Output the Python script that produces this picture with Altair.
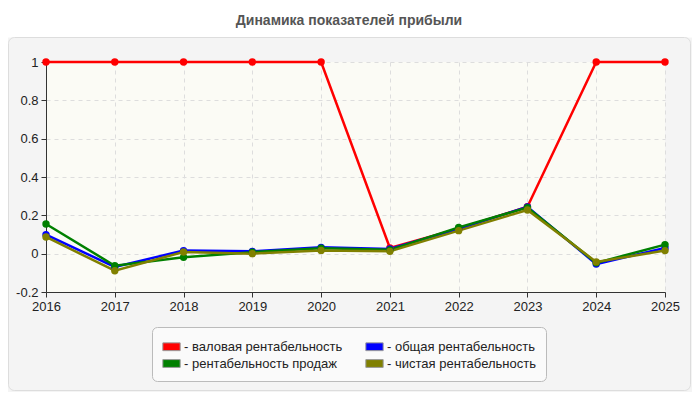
import altair as alt
import pandas as pd

years = [2016, 2017, 2018, 2019, 2020, 2021, 2022, 2023, 2024, 2025]
gross = [1, 1, 1, 1, 1, 0.03, 0.13, 0.245, 1, 1]
total = [0.099, -0.069, 0.016, 0.012, 0.033, 0.024, 0.13, 0.244, -0.054, 0.03]
sales = [0.155, -0.063, -0.019, 0.008, 0.028, 0.02, 0.137, 0.24, -0.048, 0.047]
net = [0.087, -0.089, 0.009, 0.0, 0.017, 0.012, 0.12, 0.228, -0.043, 0.016]

series_names = ["валовая рентабельность", "общая рентабельность",
                "рентабельность продаж", "чистая рентабельность"]
series_colors = ["#ff0000", "#0000ff", "#008000", "#808000"]
y_ticks = [-0.2, 0, 0.2, 0.4, 0.6, 0.8, 1]
title_text = "Динамика показателей прибыли"

rows = []
for name, vals in [(series_names[0], gross), (series_names[1], total),
                   (series_names[2], sales), (series_names[3], net)]:
    for yv, v in zip(years, vals):
        rows.append({"year": yv, "value": v, "series": name})
df = pd.DataFrame(rows)

W, H = 619, 230
PAD = {"left": 38, "top": 54, "right": 27, "bottom": 100}
TOTAL_H = PAD["top"] + H + PAD["bottom"]

x = alt.X("year:Q", scale=alt.Scale(domain=[2016, 2025], nice=False, zero=False),
          axis=alt.Axis(values=years, format="d", title=None, grid=True, labelFlush=False,
                        gridDash=[4, 4], gridColor="#dddddd", domainColor="#333333",
                        tickColor="#333333", tickSize=5, labelPadding=3,
                        labelFontSize=13, labelColor="#222222", labelFont="Liberation Sans"))
y = alt.Y("value:Q", scale=alt.Scale(domain=[-0.2, 1], nice=False, zero=False),
          axis=alt.Axis(values=y_ticks, title=None, grid=True, gridDash=[4, 4], labelFlush=False,
                        gridColor="#dddddd", domainColor="#333333", tickColor="#333333",
                        tickSize=5, labelPadding=3, labelFontSize=13, labelColor="#222222",
                        labelFont="Liberation Sans",
                        labelExpr="datum.value < 0 ? '-' + format(-datum.value, '~g') : format(datum.value, '~g')"))

one = pd.DataFrame({"a": [0]})

top_white = alt.Chart(one).mark_rect(fill="white").encode(
    x=alt.value(-PAD["left"]), x2=alt.value(W + PAD["right"]),
    y=alt.value(-PAD["top"]), y2=alt.value(-24.5)
)
card = alt.Chart(one).mark_rect(
    fill=None, fillOpacity=0, stroke="#dddddd", strokeWidth=1, cornerRadius=6
).encode(
    x=alt.value(-37.5), x2=alt.value(W + PAD["right"] - 1.5),
    y=alt.value(-24.5), y2=alt.value(TOTAL_H - PAD["top"] - 1.5)
)

title = alt.Chart(pd.DataFrame({"t": [title_text]})).mark_text(
    fontSize=14, fontWeight="bold", color="#555555", font="Liberation Sans",
    align="center", baseline="middle"
).encode(text="t:N", x=alt.value(303), y=alt.value(-41))

base = alt.Chart(df)
lines = base.mark_line(strokeWidth=2.5).encode(
    x=x, y=y,
    color=alt.Color("series:N", scale=alt.Scale(domain=series_names, range=series_colors),
                    legend=None),
    order="year:Q"
)
points = base.mark_point(filled=True, size=55, opacity=1).encode(
    x=x, y=y,
    color=alt.Color("series:N", scale=alt.Scale(domain=series_names, range=series_colors),
                    legend=alt.Legend(
                        title=None, orient="none", legendX=106, legendY=265,
                        direction="horizontal",
                        columns=2, columnPadding=20, rowPadding=0,
                        symbolType="M-1,-0.45H1V0.45H-1Z", symbolSize=300,
                        symbolStrokeColor="#999999", symbolStrokeWidth=1,
                        labelExpr="'- ' + datum.label", labelFontSize=13,
                        labelFont="Liberation Sans", labelColor="#222222",
                        labelOffset=3, fillColor="#fafafa", strokeColor="#bbbbbb",
                        cornerRadius=5, padding=10, zindex=1)),
)

chart = alt.layer(top_white, card, title, lines, points).resolve_scale(
    color="independent"
).properties(
    width=W, height=H, padding=PAD,
    autosize=alt.AutoSizeParams(type="none"),
    background="#f4f4f4"
).configure_view(stroke=None, fill="#fbfbf5")

chart.save("out.html", embed_options={"renderer": "svg", "actions": False})
